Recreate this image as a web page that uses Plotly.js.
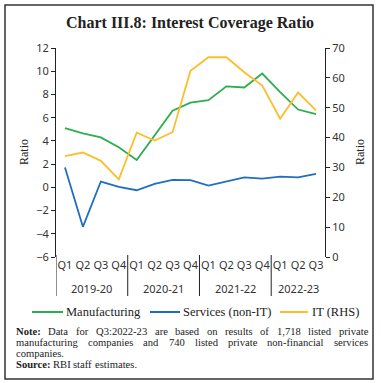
<!DOCTYPE html>
<html><head><meta charset="utf-8">
<script src="https://cdn.plot.ly/plotly-3.0.1.min.js"></script>
<style>html,body{margin:0;padding:0;background:#fff}#chart{width:381px;height:383px}</style>
</head><body><div id="chart"></div>
<script>
var quarters = ['Q1','Q2','Q3','Q4','Q1','Q2','Q3','Q4','Q1','Q2','Q3','Q4','Q1','Q2','Q3'];
var years = ['2019-20','2020-21','2021-22','2022-23'];
var yearCenters = [1.5, 5.5, 9.5, 13];
var yearBounds = [-0.5, 3.5, 7.5, 11.5];
var manufacturing = [5.1, 4.65, 4.3, 3.45, 2.35, 4.45, 6.6, 7.3, 7.5, 8.7, 8.6, 9.8, 8.2, 6.7, 6.3];
var services = [1.7, -3.4, 0.5, 0.03, -0.25, 0.3, 0.65, 0.62, 0.15, 0.52, 0.85, 0.75, 0.93, 0.85, 1.15];
var itRHS = [33.8, 35.0, 32.2, 26.0, 41.6, 39.0, 41.8, 62.4, 66.9, 66.9, 61.9, 57.4, 46.3, 55.1, 49.1];
var seriesNames = ['Manufacturing', 'Services (non-IT)', 'IT (RHS)'];
var seriesColors = ['#2DAE4E', '#1F6EC0', '#FDBE2C'];

var W = 381, H = 383, L = 56, R = 56, T = 48, B = 126;
var PW = W - L - R, PH = H - T - B;
function px(x){ return (x - L) / PW; }
function py(y){ return (H - B - y) / PH; }

var xs = quarters.map(function(_, i){ return i; });
var serif = "'Liberation Serif', 'DejaVu Serif', serif";
var sans = "'Noto Sans', 'DejaVu Sans', sans-serif";

var traces = [
  {x: xs, y: manufacturing, name: seriesNames[0], type: 'scatter', mode: 'lines',
   line: {color: seriesColors[0], width: 1.8}, xaxis: 'x', yaxis: 'y'},
  {x: xs, y: services, name: seriesNames[1], type: 'scatter', mode: 'lines',
   line: {color: seriesColors[1], width: 1.8}, xaxis: 'x', yaxis: 'y'},
  {x: xs, y: itRHS, name: seriesNames[2], type: 'scatter', mode: 'lines',
   line: {color: seriesColors[2], width: 1.8}, xaxis: 'x', yaxis: 'y2'}
];

var bounds = [];
for (var k = 0; k < quarters.length; k++) bounds.push(k + 0.5);

var shapes = [];
yearBounds.forEach(function(b){
  shapes.push({type: 'line', xref: 'x', yref: 'paper', x0: b, x1: b, y0: py(255), y1: py(296),
    line: {color: '#222', width: 1}});
});
shapes.push({type: 'rect', xref: 'paper', yref: 'paper', x0: px(5), x1: px(373), y0: py(379), y1: py(5),
  line: {color: '#333', width: 1.5}});

var annotations = [];
annotations.push({xref: 'paper', yref: 'paper', x: px(190), y: py(23), xanchor: 'center', yanchor: 'middle',
  text: '<b>Chart III.8: Interest Coverage Ratio</b>', showarrow: false,
  font: {family: serif, size: 16, color: '#222'}});
years.forEach(function(yr, i){
  annotations.push({xref: 'x', yref: 'paper', x: yearCenters[i], y: py(288), xanchor: 'center', yanchor: 'middle',
    text: yr, showarrow: false, font: {family: sans, size: 11, color: '#333'}});
});
// Axis titles
[24, 360].forEach(function(xp){
  annotations.push({xref: 'paper', yref: 'paper', x: px(xp), y: py(152), xanchor: 'center', yanchor: 'middle',
    text: 'Ratio', textangle: -90, showarrow: false, font: {family: serif, size: 12, color: '#222'}});
});

// Legend (manual, single row)
var legendLine = [[32, 63], [150, 180], [280, 308]];
var legendText = [65, 182, 311];
var legendY = 312;
seriesNames.forEach(function(nm, i){
  shapes.push({type: 'line', xref: 'paper', yref: 'paper', x0: px(legendLine[i][0]), x1: px(legendLine[i][1]),
    y0: py(legendY), y1: py(legendY), line: {color: seriesColors[i], width: 2}});
  annotations.push({xref: 'paper', yref: 'paper', x: px(legendText[i]), y: py(legendY), xanchor: 'left', yanchor: 'middle',
    text: nm, showarrow: false, font: {family: serif, size: 12.5, color: '#222'}, borderpad: 0});
});

// Notes (justified)
var canvas = document.createElement('canvas');
var ctx = canvas.getContext('2d');
var noteSize = 10.6;
function measure(word, bold){
  ctx.font = (bold ? 'bold ' : '') + noteSize + "px 'Liberation Serif'";
  return ctx.measureText(word).width;
}
var noteLines = [
  {words: ['Note:', 'Data', 'for', 'Q3:2022-23', 'are', 'based', 'on', 'results', 'of', '1,718', 'listed', 'private'], justify: true, y: 331},
  {words: ['manufacturing', 'companies', 'and', '740', 'listed', 'private', 'non-financial', 'services'], justify: true, y: 342},
  {words: ['companies.'], justify: false, y: 353},
  {words: ['Source:', 'RBI', 'staff', 'estimates.'], justify: false, y: 364}
];
var xL = 15, xR = 367;
noteLines.forEach(function(line){
  var widths = line.words.map(function(w){ return measure(w, (w === 'Note:' || w === 'Source:')); });
  var total = widths.reduce(function(a, b){ return a + b; }, 0);
  var gap = line.justify ? (xR - xL - total) / (line.words.length - 1) : measure(' ', false);
  var cx = xL;
  line.words.forEach(function(w, i){
    var bold = (w === 'Note:' || w === 'Source:');
    annotations.push({xref: 'paper', yref: 'paper', x: px(cx), y: py(line.y), xanchor: 'left', yanchor: 'middle',
      text: bold ? '<b>' + w + '</b>' : w, showarrow: false,
      font: {family: serif, size: noteSize, color: '#222'}, borderpad: 0});
    cx += widths[i] + gap;
  });
});

var layout = {
  width: W, height: H,
  margin: {l: L, r: R, t: T, b: B, pad: 0},
  paper_bgcolor: '#fff', plot_bgcolor: '#fff',
  showlegend: false,
  xaxis: {range: [-0.5, 14.5], tickmode: 'array', tickvals: xs, ticktext: quarters,
    showline: false, ticks: '', showgrid: false, zeroline: false, fixedrange: true,
    tickfont: {family: sans, size: 11, color: '#333'}},
  xaxis2: {overlaying: 'x', anchor: 'free', position: 1/3, range: [-0.5, 14.5],
    tickmode: 'array', tickvals: bounds, showticklabels: false, ticks: 'outside', ticklen: 4,
    tickcolor: '#222', showline: true, linecolor: '#222', linewidth: 1, showgrid: false, zeroline: false},
  yaxis: {range: [-6, 12], dtick: 2, tick0: 0, showline: true, linecolor: '#222', linewidth: 1,
    ticks: 'outside', ticklen: 4, tickcolor: '#222', showgrid: false, zeroline: false,
    tickfont: {family: sans, size: 11, color: '#333'}},
  yaxis2: {overlaying: 'y', side: 'right', range: [0, 70], dtick: 10, showline: true, linecolor: '#222',
    linewidth: 1, ticks: 'outside', ticklen: 4, tickcolor: '#222', showgrid: false, zeroline: false,
    tickfont: {family: sans, size: 11, color: '#333'}},
  shapes: shapes,
  annotations: annotations
};

Plotly.newPlot('chart', traces, layout, {displayModeBar: false, staticPlot: true});
</script></body></html>
